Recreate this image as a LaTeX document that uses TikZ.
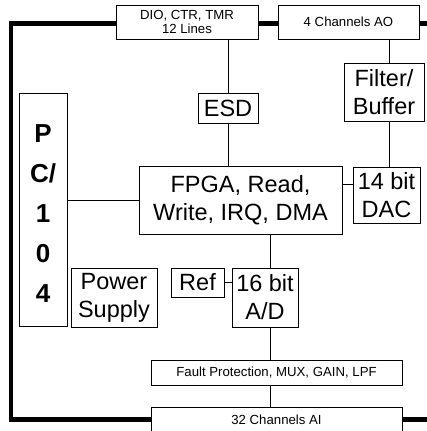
\documentclass[tikz,border=0pt]{standalone}
\usepackage{fontspec}
\setmainfont{Liberation Sans}
\begin{document}
\begin{tikzpicture}[x=1pt,y=-1pt,
  box/.style={draw, line width=1pt, inner sep=0pt, align=center},
  big/.style={font=\fontsize{23.5}{28}\selectfont},
  small/.style={font=\fontsize{13.2}{14}\selectfont},
  wire/.style={line width=1pt},
  bus/.style={line width=4.5pt}]
\useasboundingbox (0,0) rectangle (427,431);

\node[box,small,minimum width=142,minimum height=34] (dio) at (187,22) {DIO, CTR, TMR\\12 Lines};
\node[box,small,minimum width=141,minimum height=34] (ao) at (348.5,22) {4 Channels AO};
\node[box,big,minimum width=60,minimum height=30] (esd) at (228,108) {ESD};
\node[box,big,minimum width=80,minimum height=58] (filt) at (384,92.5) {Filter/\\Buffer};
\node[box,big,minimum width=203,minimum height=68] (fpga) at (240.5,200) {FPGA, Read,\\Write, IRQ, DMA};
\node[box,big,minimum width=67,minimum height=56] (dac) at (386.5,195) {14 bit\\DAC};
\node[box,minimum width=48,minimum height=233] (pc) at (43,209.5) {};
\node[font=\fontsize{26}{40}\selectfont\bfseries, align=center, inner sep=0pt] (pctext) at (43,214) {P\\C/\\1\\0\\4};
\node[box,big,minimum width=86,minimum height=59] (pow) at (114,297.5) {Power\\Supply};
\node[box,big,minimum width=53,minimum height=29] (ref) at (197.5,282.5) {Ref};
\node[box,big,minimum width=66,minimum height=59] (ad) at (265,297.5) {16 bit\\A/D};
\node[box,small,minimum width=251,minimum height=25] (fault) at (276.5,372.5) {Fault Protection, MUX, GAIN, LPF};
\node[box,small,minimum width=251,minimum height=26] (ai) at (276.5,420) {32 Channels AI};

\coordinate (bustr) at (432,23.5);
\coordinate (bustl) at (11,23.5);
\coordinate (busbl) at (11,419.5);
\coordinate (busbr) at (432,419.5);
\draw[bus] (bustr) -- (ao.east |- bustr);
\draw[bus] (ao.west |- bustr) -- (dio.east |- bustr);
\draw[bus] (dio.west |- bustl) -- (bustl) -- (busbl) -- (ai.west |- busbl);
\draw[bus] (ai.east |- busbr) -- (busbr);

\coordinate (vad) at (270,0);
\coordinate (vao) at (389,0);
\coordinate (hdac) at (0,184);
\draw[wire] (esd.north |- dio.south) -- (esd.north);
\draw[wire] (esd.south) -- (esd.south |- fpga.north);
\draw[wire] (ao.south -| vao) -- (filt.north -| vao);
\draw[wire] (filt.south -| vao) -- (dac.north -| vao);
\draw[wire] (pc.east |- fpga.west) -- (fpga.west);
\draw[wire] (fpga.east |- hdac) -- (dac.west |- hdac);
\draw[wire] (fpga.south -| vad) -- (ad.north -| vad);
\draw[wire] (ref.east) -- (ad.west |- ref.east);
\draw[wire] (ad.south -| vad) -- (fault.north -| vad);
\draw[wire] (fault.south -| vad) -- (ai.north -| vad);
\end{tikzpicture}
\end{document}
